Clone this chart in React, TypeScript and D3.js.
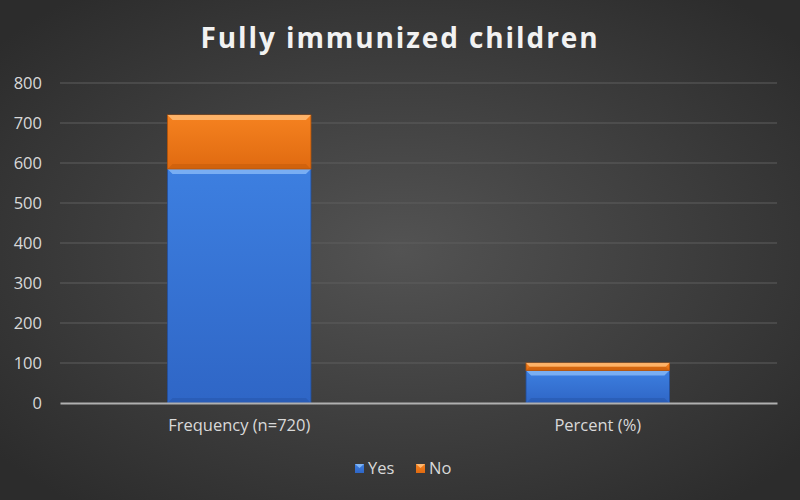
import { useEffect, useRef } from 'react';
import * as d3 from 'd3';

const categories = ['Frequency (n=720)', 'Percent (%)'];
const yesValues = [585, 81.3];
const noValues = [135, 18.7];
const seriesNames = ['Yes', 'No'];
const yTicks = [0, 100, 200, 300, 400, 500, 600, 700, 800];

const FONT = '"Open Sans", "DejaVu Sans", sans-serif';

export default function App() {
  const svgRef = useRef<SVGSVGElement>(null);

  useEffect(() => {
    if (!svgRef.current) return;
    const W = 800;
    const H = 500;
    const margin = { top: 83, right: 23, bottom: 97, left: 60 };
    const width = W - margin.left - margin.right;
    const height = H - margin.top - margin.bottom;

    const root = d3.select(svgRef.current);
    root.selectAll('*').remove();
    root.attr('viewBox', `0 0 ${W} ${H}`).attr('width', W).attr('height', H);

    const defs = root.append('defs');
    const bg = defs
      .append('radialGradient')
      .attr('id', 'bg')
      .attr('cx', '50%')
      .attr('cy', '50%')
      .attr('r', '65%');
    bg.append('stop').attr('offset', '0%').attr('stop-color', '#535353');
    bg.append('stop').attr('offset', '100%').attr('stop-color', '#2c2c2c');

    const colors: Record<string, [string, string, string, string]> = {
      Yes: ['#3d7fe0', '#2f66c6', '#7fb4f5', '#2350a0'],
      No: ['#f58220', '#e06a10', '#ffb870', '#b85508'],
    };
    seriesNames.forEach((s) => {
      const g = defs
        .append('linearGradient')
        .attr('id', `grad-${s}`)
        .attr('x1', 0)
        .attr('y1', 0)
        .attr('x2', 0)
        .attr('y2', 1);
      g.append('stop').attr('offset', '0%').attr('stop-color', colors[s][0]);
      g.append('stop').attr('offset', '100%').attr('stop-color', colors[s][1]);
    });

    root.append('rect').attr('width', W).attr('height', H).attr('fill', 'url(#bg)');

    root
      .append('text')
      .attr('x', W / 2)
      .attr('y', 48)
      .attr('text-anchor', 'middle')
      .attr('fill', '#f2f2f2')
      .style('font-family', FONT)
      .style('font-size', '28px')
      .style('font-weight', 700)
      .style('letter-spacing', '1.9px')
      .text('Fully immunized children');

    const svg = root.append('g').attr('transform', `translate(${margin.left},${margin.top})`);

    const x = d3.scaleBand<string>().domain(categories).range([0, width]).padding(0);
    const y = d3.scaleLinear().domain([0, 800]).range([height, 0]);

    svg
      .append('g')
      .selectAll('line')
      .data(yTicks.filter((t) => t > 0))
      .enter()
      .append('line')
      .attr('x1', 0)
      .attr('x2', width)
      .attr('y1', (d) => y(d))
      .attr('y2', (d) => y(d))
      .attr('stroke', '#5e5e5e')
      .attr('stroke-width', 1);

    const yAxis = svg
      .append('g')
      .call(d3.axisLeft<number>(y).tickValues(yTicks).tickSize(0).tickPadding(18));
    yAxis.select('.domain').remove();
    yAxis
      .selectAll('text')
      .attr('fill', '#d9d9d9')
      .style('font-family', FONT)
      .style('font-size', '16.5px');

    const barW = x.bandwidth() * 0.4;
    const stacked = categories.map((c, i) => [
      { s: 'Yes', c, y0: 0, y1: yesValues[i] },
      { s: 'No', c, y0: yesValues[i], y1: yesValues[i] + noValues[i] },
    ]);

    stacked.flat().forEach((d) => {
      const x0 = (x(d.c) ?? 0) + (x.bandwidth() - barW) / 2;
      const top = y(d.y1);
      const h = y(d.y0) - y(d.y1);
      const g = svg.append('g');
      g.append('rect')
        .attr('x', x0)
        .attr('y', top)
        .attr('width', barW)
        .attr('height', h)
        .attr('fill', `url(#grad-${d.s})`)
        .attr('stroke', colors[d.s][3])
        .attr('stroke-width', 0.8);
      const bev = Math.min(5, h / 2);
      g.append('path')
        .attr(
          'd',
          `M${x0},${top}L${x0 + barW},${top}L${x0 + barW - bev},${top + bev}L${x0 + bev},${top + bev}Z`,
        )
        .attr('fill', colors[d.s][2])
        .attr('opacity', 0.9);
      g.append('path')
        .attr(
          'd',
          `M${x0},${top + h}L${x0 + barW},${top + h}L${x0 + barW - bev},${top + h - bev}L${x0 + bev},${top + h - bev}Z`,
        )
        .attr('fill', colors[d.s][3])
        .attr('opacity', 0.4);
    });

    const xAxis = svg
      .append('g')
      .attr('transform', `translate(0,${height})`)
      .call(d3.axisBottom(x).tickSize(0).tickPadding(16));
    xAxis.select('.domain').attr('stroke', '#b0b0b0').attr('stroke-width', 2);
    xAxis
      .selectAll('text')
      .attr('fill', '#d9d9d9')
      .style('font-family', FONT)
      .style('font-size', '16.5px');

    const legend = root.append('g').attr('transform', `translate(355,474)`);
    const offsets = [0, 61];
    seriesNames.forEach((s, i) => {
      const lg = legend.append('g').attr('transform', `translate(${offsets[i]},0)`);
      lg.append('rect')
        .attr('x', 0)
        .attr('y', -10)
        .attr('width', 9)
        .attr('height', 9)
        .attr('fill', `url(#grad-${s})`);
      lg.append('path').attr('d', 'M0,-10L9,-10L4.5,-6Z').attr('fill', colors[s][2]);
      lg.append('text')
        .attr('x', 13)
        .attr('y', 0)
        .attr('fill', '#d9d9d9')
        .style('font-family', FONT)
        .style('font-size', '16.5px')
        .text(s);
    });
  }, []);

  return <svg ref={svgRef} style={{ position: 'absolute', left: 0, top: 0 }} />;
}
